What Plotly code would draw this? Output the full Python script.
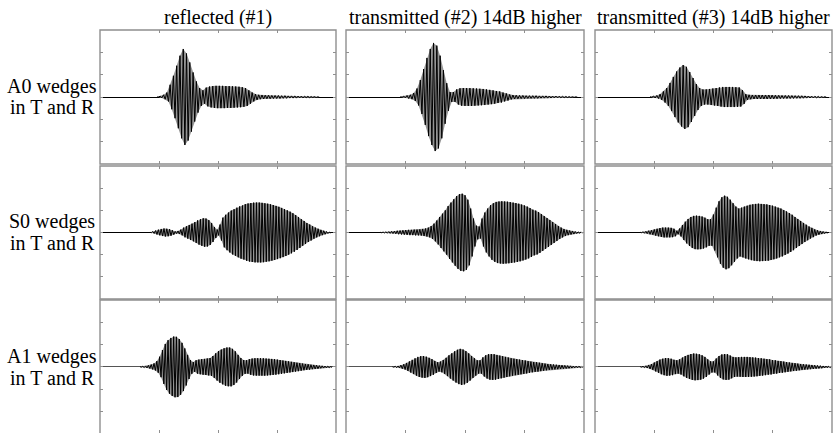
import plotly.graph_objects as go

# ---------------- data ----------------
COL_TITLES = ["reflected (#1)", "transmitted (#2) 14dB higher", "transmitted (#3) 14dB higher"]
ROW_LABEL_1 = ["A0 wedges", "S0 wedges", "A1 wedges"]
ROW_LABEL_2 = ["in T and R", "in T and R", "in T and R"]

# carrier period (time units) per row, and onset time of every trace
CYCLE_PERIOD = [0.0556, 0.0475, 0.0475]
ONSET = [[0.966, 0.915, 0.932],
         [0.847, 0.576, 0.763],
         [0.678, 0.780, 0.763]]

# peak amplitude of each carrier cycle (one value per cycle)
a0_reflected = [0.0, 0.04, 0.1, 0.2, 0.55, 0.95, 1.4, 1.85, 2.15, 1.95, 1.55, 1.1, 0.7, 0.4, 0.3, 0.42, 0.47,
                0.49, 0.5, 0.5, 0.5, 0.49, 0.49, 0.48, 0.47, 0.46, 0.44, 0.4, 0.3, 0.2, 0.13, 0.1, 0.09, 0.08,
                0.08, 0.07, 0.07, 0.07, 0.06, 0.06, 0.05, 0.05, 0.05, 0.04, 0.04, 0.03, 0.03, 0.02, 0.02, 0.01]
a0_trans2 = [0.02, 0.04, 0.07, 0.1, 0.18, 0.38, 0.76, 1.25, 1.75, 2.15, 2.42, 2.3, 1.85, 1.2, 0.62, 0.22, 0.22,
             0.34, 0.39, 0.4, 0.4, 0.4, 0.39, 0.38, 0.37, 0.36, 0.34, 0.32, 0.3, 0.27, 0.25, 0.2, 0.16, 0.11,
             0.09, 0.08, 0.07, 0.07, 0.06, 0.06, 0.06, 0.06, 0.05, 0.05, 0.05, 0.045, 0.04, 0.04, 0.035, 0.03,
             0.025, 0.02, 0.015, 0.01]
a0_trans3 = [0.02, 0.045, 0.07, 0.13, 0.25, 0.4, 0.63, 0.9, 1.14, 1.32, 1.43, 1.35, 1.12, 0.85, 0.58, 0.4, 0.34,
             0.34, 0.36, 0.38, 0.4, 0.43, 0.45, 0.45, 0.45, 0.45, 0.44, 0.43, 0.31, 0.13, 0.1, 0.09, 0.09, 0.09,
             0.09, 0.09, 0.09, 0.085, 0.08, 0.075, 0.07, 0.07, 0.07, 0.065, 0.06, 0.06, 0.055, 0.05, 0.045, 0.04,
             0.035, 0.03, 0.02, 0.015]
s0_reflected = [0.01, 0.045, 0.09, 0.13, 0.16, 0.18, 0.17, 0.15, 0.1, 0.05, 0.07, 0.13, 0.22, 0.28, 0.34, 0.4,
                0.47, 0.55, 0.6, 0.64, 0.63, 0.56, 0.43, 0.25, 0.13, 0.36, 0.67, 0.8, 0.9, 0.99, 1.05, 1.12, 1.18,
                1.22, 1.28, 1.31, 1.33, 1.35, 1.35, 1.35, 1.34, 1.32, 1.3, 1.27, 1.24, 1.2, 1.16, 1.11, 1.06, 1.0,
                0.94, 0.87, 0.79, 0.7, 0.6, 0.52, 0.43, 0.36, 0.28, 0.22, 0.17, 0.12, 0.08, 0.045, 0.02]
s0_trans2 = [0.01, 0.02, 0.03, 0.04, 0.05, 0.06, 0.08, 0.09, 0.1, 0.11, 0.12, 0.12, 0.13, 0.13, 0.14, 0.16, 0.18,
             0.22, 0.29, 0.4, 0.54, 0.7, 0.85, 1.0, 1.19, 1.35, 1.5, 1.64, 1.73, 1.75, 1.68, 1.48, 1.08, 0.63,
             0.31, 0.27, 0.63, 0.9, 1.08, 1.23, 1.32, 1.38, 1.4, 1.41, 1.4, 1.39, 1.37, 1.35, 1.33, 1.3, 1.26,
             1.22, 1.17, 1.1, 1.03, 0.99, 0.92, 0.83, 0.74, 0.65, 0.56, 0.47, 0.38, 0.29, 0.22, 0.16, 0.12, 0.09,
             0.07, 0.045, 0.03, 0.02]
s0_trans3 = [0.01, 0.03, 0.05, 0.08, 0.1, 0.14, 0.17, 0.2, 0.22, 0.22, 0.22, 0.21, 0.17, 0.08, 0.18, 0.34, 0.49,
             0.61, 0.7, 0.75, 0.76, 0.75, 0.72, 0.67, 0.6, 0.6, 0.81, 1.12, 1.41, 1.59, 1.66, 1.61, 1.48, 1.32,
             1.17, 1.08, 1.12, 1.17, 1.21, 1.25, 1.27, 1.29, 1.3, 1.29, 1.28, 1.27, 1.24, 1.21, 1.17, 1.12, 1.08,
             1.01, 0.95, 0.88, 0.8, 0.7, 0.61, 0.52, 0.43, 0.35, 0.27, 0.21, 0.14, 0.1, 0.07, 0.045, 0.03]
a1_reflected = [0.01, 0.03, 0.045, 0.07, 0.11, 0.16, 0.26, 0.46, 0.76, 1.03, 1.2, 1.3, 1.36, 1.35, 1.25, 1.08,
                0.83, 0.54, 0.31, 0.22, 0.3, 0.33, 0.35, 0.36, 0.38, 0.4, 0.49, 0.61, 0.71, 0.78, 0.84, 0.87, 0.87,
                0.81, 0.7, 0.54, 0.4, 0.31, 0.3, 0.35, 0.38, 0.39, 0.39, 0.39, 0.39, 0.38, 0.37, 0.36, 0.35, 0.33,
                0.31, 0.29, 0.27, 0.25, 0.23, 0.21, 0.19, 0.17, 0.15, 0.13, 0.12, 0.1, 0.09, 0.08, 0.06, 0.05, 0.04,
                0.03, 0.02]
a1_trans2 = [0.01, 0.03, 0.04, 0.08, 0.12, 0.18, 0.25, 0.32, 0.39, 0.45, 0.48, 0.49, 0.46, 0.41, 0.35, 0.27, 0.21,
             0.24, 0.31, 0.41, 0.52, 0.61, 0.7, 0.77, 0.81, 0.78, 0.71, 0.61, 0.49, 0.39, 0.3, 0.3, 0.43, 0.52,
             0.57, 0.58, 0.57, 0.54, 0.51, 0.48, 0.45, 0.42, 0.39, 0.37, 0.35, 0.33, 0.31, 0.29, 0.26, 0.24, 0.22,
             0.21, 0.19, 0.17, 0.15, 0.13, 0.12, 0.11, 0.1, 0.09, 0.08, 0.07, 0.06, 0.05, 0.04, 0.035, 0.03, 0.02]
a1_trans3 = [0.01, 0.03, 0.05, 0.09, 0.13, 0.2, 0.26, 0.33, 0.37, 0.4, 0.39, 0.37, 0.32, 0.3, 0.34, 0.42, 0.49,
             0.54, 0.58, 0.6, 0.59, 0.57, 0.52, 0.45, 0.34, 0.25, 0.25, 0.38, 0.49, 0.56, 0.58, 0.57, 0.51, 0.45,
             0.43, 0.44, 0.45, 0.45, 0.45, 0.44, 0.43, 0.42, 0.4, 0.39, 0.37, 0.35, 0.34, 0.31, 0.3, 0.27, 0.26,
             0.24, 0.22, 0.2, 0.18, 0.17, 0.15, 0.13, 0.12, 0.11, 0.1, 0.09, 0.08, 0.07, 0.06, 0.045, 0.035, 0.03,
             0.02]

SIGNALS = [[a0_reflected, a0_trans2, a0_trans3],
           [s0_reflected, s0_trans2, s0_trans3],
           [a1_reflected, a1_trans2, a1_trans3]]

X_TICKS = [1, 2, 3]
Y_TICKS = [-2, -1, 0, 1, 2]

# ---------------- layout geometry ----------------
W, H = 833, 433
COL_PX = [(100, 336), (346, 584), (595, 832)]
ROW_PX = [(30, 164), (166, 299), (300, 433)]
Y_RANGES = [[-3, 3], [-3, 3], [-2.96, 3]]
ZERO_COLORS = ["#000000", "#000000", "#555555"]
FRAME = "#8f8f8f"
FILL = "#959595"
FONT = "Liberation Serif, Times New Roman, serif"

fig = go.Figure()
layout = dict(width=W, height=H, margin=dict(l=0, r=0, t=0, b=0),
              paper_bgcolor="white", plot_bgcolor="white", showlegend=False)
shapes, annotations = [], []

for r in range(3):
    for c in range(3):
        k = r * 3 + c + 1
        xname = "x" if k == 1 else f"x{k}"
        yname = "y" if k == 1 else f"y{k}"
        amps = SIGNALS[r][c]
        t0 = ONSET[r][c]
        per = CYCLE_PERIOD[r]
        xs, ys = [], []
        up_x, lo_x = [], []
        for i, a in enumerate(amps):
            xs += [t0 + i * per, t0 + (i + 0.5) * per]
            ys += [a, -a]
            up_x.append(t0 + i * per)
            lo_x.append(t0 + (i + 0.5) * per)
        # grey envelope (anti-aliased look of the dense carrier)
        fig.add_trace(go.Scatter(x=up_x + lo_x[::-1], y=list(amps) + [-a for a in amps[::-1]],
                                 mode="lines", fill="toself", fillcolor=FILL, line=dict(width=0),
                                 xaxis=xname, yaxis=yname, hoverinfo="skip"))
        fig.add_trace(go.Scatter(x=xs, y=ys, mode="lines", xaxis=xname, yaxis=yname,
                                 line=dict(color="black", width=1), hoverinfo="skip"))
        x0, x1 = COL_PX[c]
        ytop, ybot = ROW_PX[r]
        layout["xaxis" if k == 1 else f"xaxis{k}"] = dict(
            domain=[x0 / W, x1 / W], range=[0, 4], anchor=yname,
            showgrid=False, zeroline=False, showticklabels=False, showline=False,
            ticks="inside", ticklen=3, tickcolor=FRAME, tickwidth=1, mirror="ticks",
            tickvals=X_TICKS, fixedrange=True)
        layout["yaxis" if k == 1 else f"yaxis{k}"] = dict(
            domain=[max(0, 1 - ybot / H), 1 - ytop / H], range=Y_RANGES[r], anchor=xname,
            showgrid=False, zeroline=True, zerolinecolor=ZERO_COLORS[r], zerolinewidth=1,
            showticklabels=False, showline=False,
            ticks="inside", ticklen=3, tickcolor=FRAME, tickwidth=1, mirror="ticks",
            tickvals=Y_TICKS, fixedrange=True)
        shapes.append(dict(type="rect", xref=f"{xname} domain", yref=f"{yname} domain",
                           x0=0, x1=1, y0=(-0.05 if r == 2 else 0), y1=1,
                           line=dict(color=FRAME, width=1.4), fillcolor="rgba(0,0,0,0)", layer="above"))

for c in range(3):
    x0, x1 = COL_PX[c]
    annotations.append(dict(text=COL_TITLES[c], xref="paper", yref="paper",
                            x=(x0 + x1) / 2 / W, y=1 - 17 / H, xanchor="center", yanchor="middle",
                            showarrow=False, font=dict(family=FONT, size=20, color="black")))

LABEL_Y = [(87, 106.5), (221.7, 243.3), (356.7, 378.3)]
for r in range(3):
    for txt, yy in ((ROW_LABEL_1[r], LABEL_Y[r][0]), (ROW_LABEL_2[r], LABEL_Y[r][1])):
        annotations.append(dict(text=txt, xref="paper", yref="paper",
                                x=52 / W, y=1 - yy / H, xanchor="center", yanchor="middle",
                                showarrow=False, font=dict(family=FONT, size=20, color="black")))

layout["shapes"] = shapes
layout["annotations"] = annotations
fig.update_layout(**layout)
fig.write_html("out.html", config={"displayModeBar": False},
               post_script="document.body.style.margin='0';document.body.style.padding='0';")
